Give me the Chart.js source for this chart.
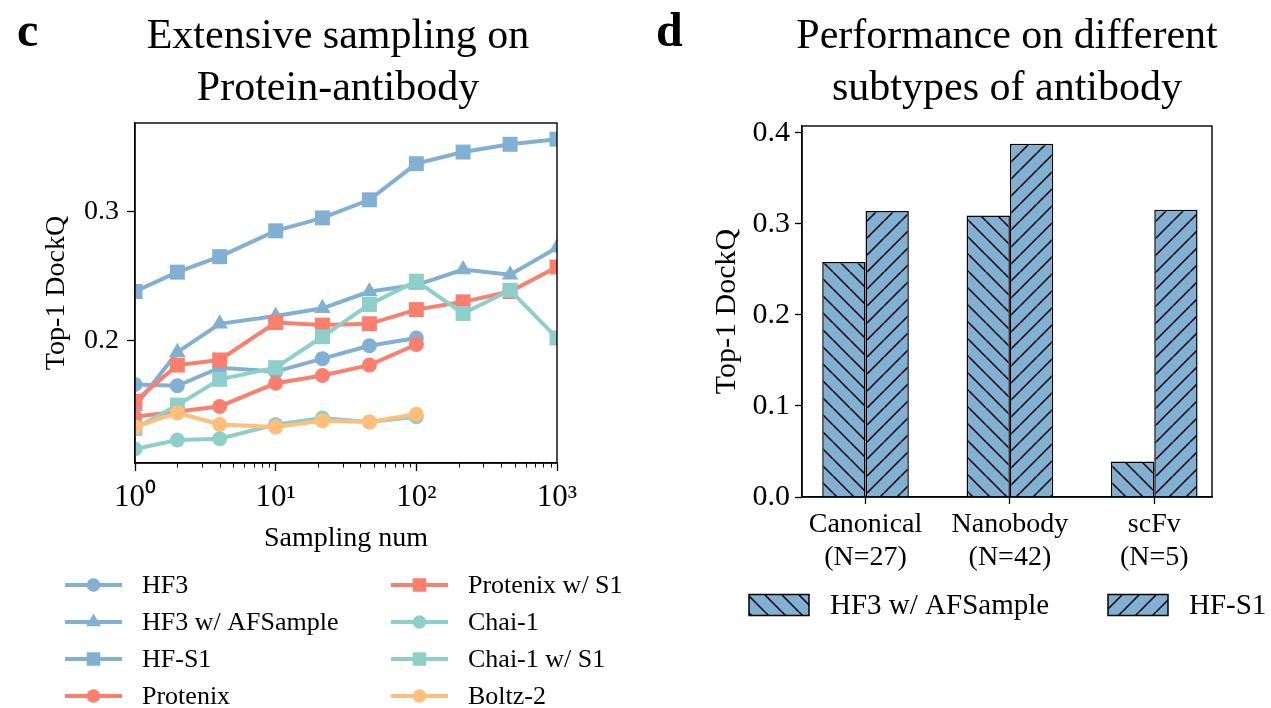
<!DOCTYPE html>
<html>
<head>
<meta charset="utf-8">
<script src="https://cdn.jsdelivr.net/npm/chart.js@4.4.1/dist/chart.umd.min.js"></script>
<style>
html, body { margin: 0; padding: 0; background: #fff; }
#wrap { position: relative; width: 1271px; height: 708px; }
canvas { position: absolute; left: 0; top: 0; }
</style>
</head>
<body>
<div id="wrap">
  <canvas id="sampling" width="1271" height="708"></canvas>
  <canvas id="subtypes" width="1271" height="708"></canvas>
</div>
<script>
// ---- panel c: extensive sampling ----
const samplingNum = [1, 2, 4, 10, 21.5, 46.4, 100, 215, 464, 1000];
const hf3 = [0.166, 0.165, 0.179, 0.176, 0.186, 0.196, 0.202];
const hf3AfSample = [0.149, 0.191, 0.213, 0.219, 0.225, 0.238, 0.243, 0.255, 0.251, 0.272];
const hfS1 = [0.238, 0.253, 0.265, 0.285, 0.295, 0.309, 0.337, 0.346, 0.352, 0.356];
const protenix = [0.141, 0.145, 0.149, 0.167, 0.173, 0.181, 0.197];
const protenixS1 = [0.153, 0.181, 0.185, 0.214, 0.212, 0.213, 0.224, 0.230, 0.238, 0.257];
const chai1 = [0.116, 0.123, 0.124, 0.135, 0.140, 0.137, 0.141];
const chai1S1 = [0.132, 0.150, 0.170, 0.179, 0.203, 0.228, 0.246, 0.221, 0.239, 0.202];
const boltz2 = [0.133, 0.144, 0.135, 0.133, 0.138, 0.137, 0.143];
const xMajorTicks = [1, 10, 100, 1000];
const yTicksC = [0.2, 0.3];

// ---- panel d: antibody subtypes ----
const subtypes = ['Canonical', 'Nanobody', 'scFv'];
const subtypeN = [27, 42, 5];
const hf3AfSampleBar = [0.258, 0.309, 0.039];
const hfS1Bar = [0.314, 0.388, 0.3155];
const yTicksD = [0, 0.1, 0.2, 0.3, 0.4];

const SERIF = '"Liberation Serif", "Times New Roman", serif';
const BLUE = '#82B0D2', RED = '#FA7F6F', TEAL = '#8ECFC9', ORANGE = '#FFBE7A';
const SUP = ['\u2070', '\u00B9', '\u00B2', '\u00B3'];

Chart.defaults.font.family = SERIF;
Chart.defaults.color = '#000';

function series(name, vals, color, style) {
  const r = style === 'rect' ? 10.6 : (style === 'triangle' ? 9.5 : 7.5);
  return {
    label: name,
    data: vals.map((v, i) => ({ x: samplingNum[i], y: v })),
    borderColor: color,
    backgroundColor: color,
    borderWidth: 4,
    pointStyle: style,
    pointRadius: r,
    pointHoverRadius: r,
    pointBorderWidth: 0,
    pointBackgroundColor: color,
    tension: 0
  };
}

const lineSets = [
  series('HF3', hf3, BLUE, 'circle'),
  series('HF3 w/ AFSample', hf3AfSample, BLUE, 'triangle'),
  series('HF-S1', hfS1, BLUE, 'rect'),
  series('Protenix', protenix, RED, 'circle'),
  series('Protenix w/ S1', protenixS1, RED, 'rect'),
  series('Chai-1', chai1, TEAL, 'circle'),
  series('Chai-1 w/ S1', chai1S1, TEAL, 'rect'),
  series('Boltz-2', boltz2, ORANGE, 'circle')
];
// matplotlib draws later series on top
lineSets.forEach((d, i) => { d.order = lineSets.length - i; });

function panelText(letter, letterX, lines, shift) {
  return {
    id: 'panelText',
    afterDraw(chart) {
      const { ctx, chartArea } = chart;
      ctx.save();
      ctx.strokeStyle = '#000';
      ctx.lineWidth = 1.4;
      ctx.strokeRect(chartArea.left, chartArea.top, chartArea.right - chartArea.left, chartArea.bottom - chartArea.top);
      ctx.fillStyle = '#000';
      ctx.textBaseline = 'alphabetic';
      ctx.textAlign = 'left';
      ctx.font = 'bold 48px ' + SERIF;
      ctx.fillText(letter, letterX, 46);
      ctx.font = '42px ' + SERIF;
      ctx.textAlign = 'center';
      const cx = (chartArea.left + chartArea.right) / 2 + shift;
      lines.forEach((t, i) => ctx.fillText(t, cx, 48 + i * 52));
      ctx.restore();
    }
  };
}

const minorTicks = {
  id: 'minorTicks',
  afterDraw(chart) {
    const sx = chart.scales.x, ctx = chart.ctx;
    const yb = chart.chartArea.bottom;
    ctx.save();
    ctx.strokeStyle = '#000';
    ctx.lineWidth = 1;
    ctx.beginPath();
    for (let k = 0; k < 3; k++) {
      for (let m = 2; m < 10; m++) {
        const px = Math.round(sx.getPixelForValue(m * Math.pow(10, k))) + 0.5;
        ctx.moveTo(px, yb);
        ctx.lineTo(px, yb + 4.5);
      }
    }
    ctx.stroke();
    ctx.restore();
  }
};

const lineLegend = {
  id: 'lineLegend',
  afterDraw(chart) {
    const ctx = chart.ctx;
    ctx.save();
    chart.data.datasets.forEach((ds, i) => {
      const col = Math.floor(i / 4), row = i % 4;
      const x0 = col ? 391 : 65;
      const y = 585 + row * 37;
      ctx.strokeStyle = ds.borderColor;
      ctx.lineWidth = 4;
      ctx.beginPath();
      ctx.moveTo(x0, y);
      ctx.lineTo(x0 + 57, y);
      ctx.stroke();
      ctx.fillStyle = ds.borderColor;
      Chart.helpers.drawPoint(ctx, { pointStyle: ds.pointStyle, radius: ds.pointRadius * 0.9, borderWidth: 0, rotation: 0 }, x0 + 28.5, y);
      ctx.fillStyle = '#000';
      ctx.font = '26px ' + SERIF;
      ctx.textAlign = 'left';
      ctx.textBaseline = 'middle';
      ctx.fillText(ds.label, x0 + 77, y + 1);
    });
    ctx.restore();
  }
};

new Chart(document.getElementById('sampling'), {
  type: 'line',
  data: { datasets: lineSets },
  options: {
    responsive: false,
    animation: false,
    layout: { padding: { left: 36, top: 123, right: 714, bottom: 150 } },
    plugins: { legend: { display: false }, tooltip: { enabled: false } },
    scales: {
      x: {
        type: 'logarithmic',
        min: 1,
        max: 1000,
        afterBuildTicks: s => { s.ticks = xMajorTicks.map(v => ({ value: v })); },
        afterFit: s => { s.height = 95; },
        ticks: {
          font: { size: 31 },
          padding: 8,
          maxRotation: 0,
          autoSkip: false,
          callback: v => '10' + SUP[Math.round(Math.log10(v))]
        },
        grid: { drawOnChartArea: false, tickLength: 8, tickColor: '#000', tickWidth: 1.3 },
        border: { color: '#000', width: 1.4 },
        title: { display: true, text: 'Sampling num', font: { size: 28 }, padding: { top: 0, bottom: 3 } }
      },
      y: {
        min: 0.1052,
        max: 0.3685,
        afterBuildTicks: s => { s.ticks = yTicksC.map(v => ({ value: v })); },
        afterFit: s => { s.width = 99; },
        ticks: { font: { size: 28 }, padding: 8, callback: v => v.toFixed(1) },
        grid: { drawOnChartArea: false, tickLength: 8, tickColor: '#000', tickWidth: 1.3 },
        border: { color: '#000', width: 1.4 },
        title: { display: true, text: 'Top-1 DockQ', font: { size: 28 }, padding: { top: 4, bottom: 0 } }
      }
    }
  },
  plugins: [panelText('c', 17, ['Extensive sampling on', 'Protein-antibody'], -8), minorTicks, lineLegend]
});

// ---- hatched bars ----
const barCanvas = document.getElementById('subtypes');
const barCtx = barCanvas.getContext('2d');

function hatch(back) {
  const s = 17;
  const c = document.createElement('canvas');
  c.width = s; c.height = s;
  const g = c.getContext('2d');
  g.fillStyle = BLUE;
  g.fillRect(0, 0, s, s);
  g.strokeStyle = '#000';
  g.lineWidth = 1.5;
  g.beginPath();
  for (const o of [-s, 0, s]) {
    if (back) { g.moveTo(o, 0); g.lineTo(o + s, s); }
    else { g.moveTo(o, s); g.lineTo(o + s, 0); }
  }
  g.stroke();
  return barCtx.createPattern(c, 'repeat');
}

const backHatch = hatch(true);
const fwdHatch = hatch(false);

const barSets = [
  { label: 'HF3 w/ AFSample', data: hf3AfSampleBar.map((v, i) => ({ x: i, y: v })), backgroundColor: backHatch },
  { label: 'HF-S1', data: hfS1Bar.map((v, i) => ({ x: i, y: v })), backgroundColor: fwdHatch }
].map(d => Object.assign(d, { borderColor: '#000', borderWidth: 1.5, categoryPercentage: 0.6, barPercentage: 1.0 }));

const barLegend = {
  id: 'barLegend',
  afterDraw(chart) {
    const ctx = chart.ctx;
    const xs = [749, 1108];
    ctx.save();
    chart.data.datasets.forEach((ds, i) => {
      const x0 = xs[i], y = 605;
      ctx.fillStyle = ds.backgroundColor;
      ctx.fillRect(x0, y - 10.5, 60, 21);
      ctx.strokeStyle = '#000';
      ctx.lineWidth = 1.5;
      ctx.strokeRect(x0, y - 10.5, 60, 21);
      ctx.fillStyle = '#000';
      ctx.font = '29px ' + SERIF;
      ctx.textAlign = 'left';
      ctx.textBaseline = 'middle';
      ctx.fillText(ds.label, x0 + 81, y + 1);
    });
    ctx.restore();
  }
};

new Chart(barCanvas, {
  type: 'bar',
  data: { datasets: barSets },
  options: {
    responsive: false,
    animation: false,
    layout: { padding: { left: 705, top: 126, right: 59, bottom: 131 } },
    plugins: { legend: { display: false }, tooltip: { enabled: false } },
    scales: {
      x: {
        type: 'linear',
        min: -0.44,
        max: 2.40,
        offset: false,
        afterBuildTicks: s => { s.ticks = subtypes.map((_, i) => ({ value: i })); },
        afterFit: s => { s.height = 80; },
        ticks: {
          font: { size: 28, lineHeight: 1.15 },
          padding: 5,
          maxRotation: 0,
          autoSkip: false,
          callback: v => [subtypes[v], '(N=' + subtypeN[v] + ')']
        },
        grid: { drawOnChartArea: false, offset: false, tickLength: 7, tickColor: '#000', tickWidth: 1.3 },
        border: { color: '#000', width: 1.4 }
      },
      y: {
        min: 0,
        max: 0.4074,
        afterBuildTicks: s => { s.ticks = yTicksD.map(v => ({ value: v })); },
        afterFit: s => { s.width = 97; },
        ticks: { font: { size: 30 }, padding: 5, callback: v => v.toFixed(1) },
        grid: { drawOnChartArea: false, tickLength: 7, tickColor: '#000', tickWidth: 1.3 },
        border: { color: '#000', width: 1.4 },
        title: { display: true, text: 'Top-1 DockQ', font: { size: 30 }, padding: { top: 4, bottom: 0 } }
      }
    }
  },
  plugins: [panelText('d', 656, ['Performance on different', 'subtypes of antibody'], 0), barLegend]
});
</script>
</body>
</html>
